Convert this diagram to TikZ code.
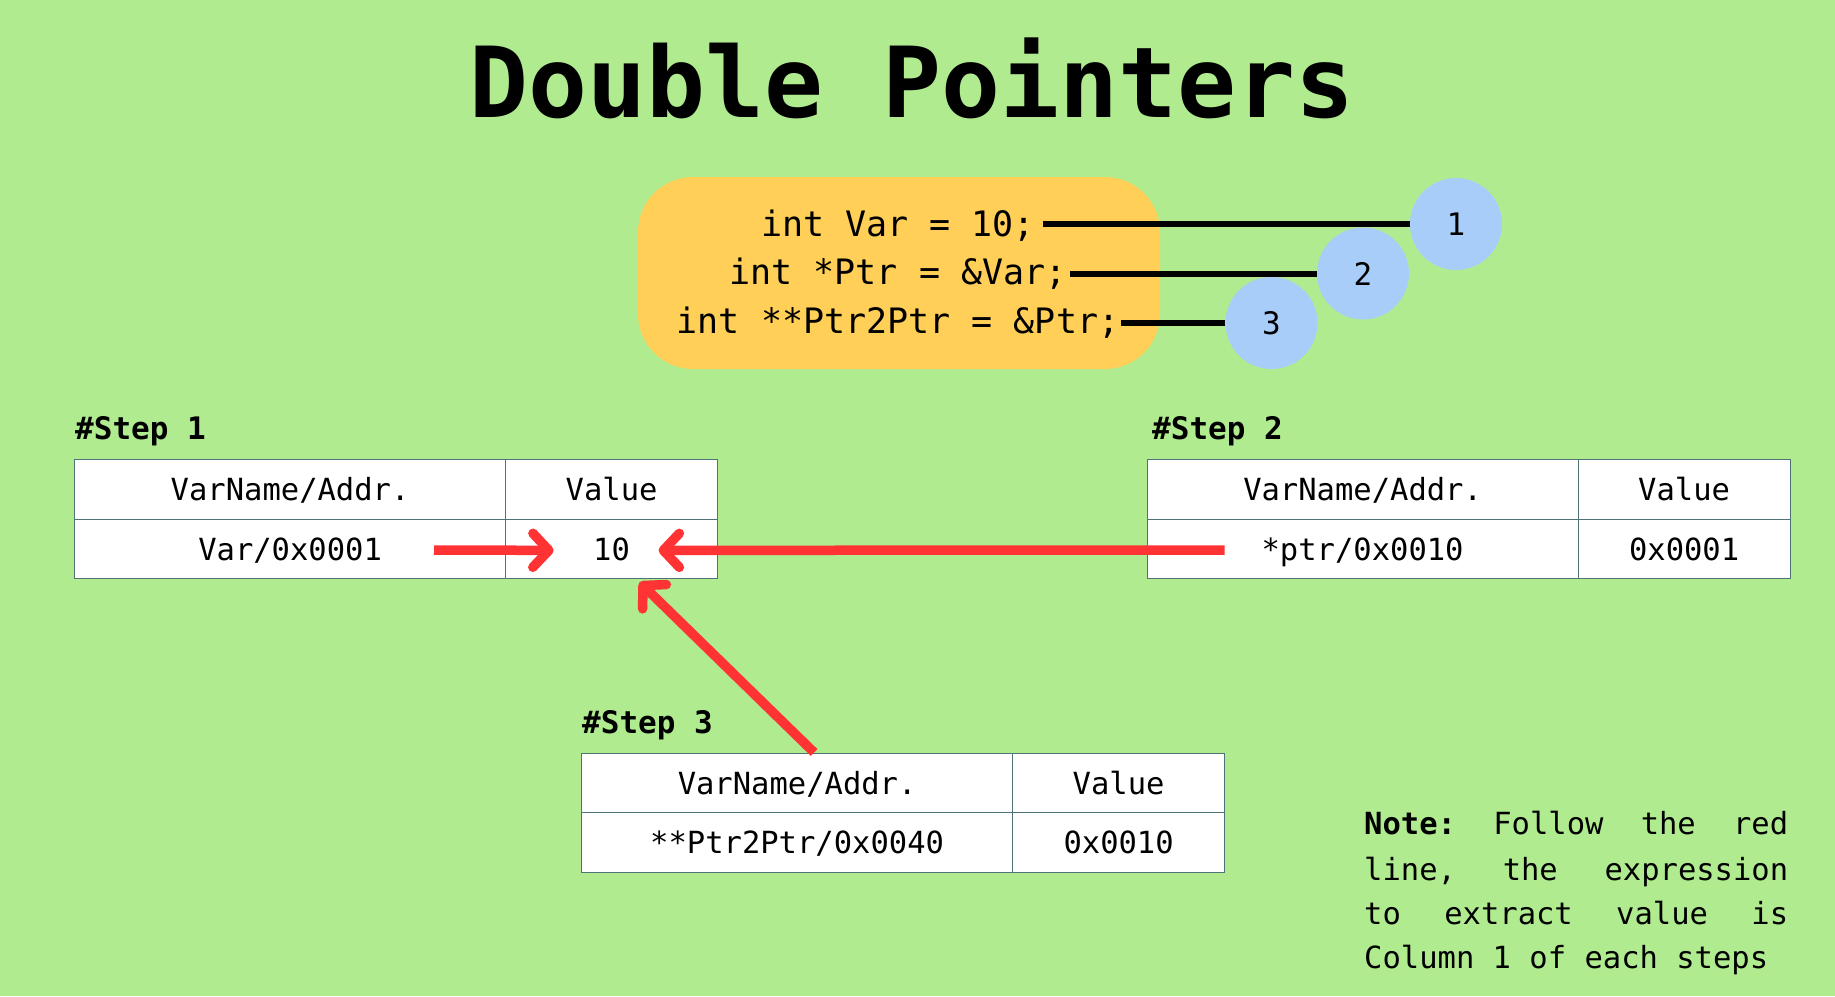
\documentclass[tikz,border=0pt]{standalone}
\usepackage{fontspec}
\setmonofont{DejaVu Sans Mono}
\usetikzlibrary{arrows.meta,calc}
\definecolor{bg}{RGB}{176,235,144}
\definecolor{codebox}{RGB}{255,207,88}
\definecolor{bubble}{RGB}{168,205,248}
\definecolor{redline}{RGB}{255,51,51}
\definecolor{gridc}{RGB}{80,115,120}
\newcommand{\tabfont}{\ttfamily\fontsize{30.5}{36}\selectfont}
\newcommand{\codefont}{\ttfamily\fontsize{35}{42}\selectfont}
\newcommand{\notefont}{\ttfamily\fontsize{30.5}{36}\selectfont}
\begin{document}
\begin{tikzpicture}[x=1pt,y=-1pt,
  cell/.style={draw=gridc, line width=1.2pt, fill=white, anchor=north west,
    inner sep=0pt, font=\tabfont, minimum height=59.5pt, text height=23pt, text depth=0pt},
  wide/.style={cell, minimum width=431pt},
  narrow/.style={cell, minimum width=212pt},
  steplabel/.style={anchor=base west, inner sep=0pt, font=\ttfamily\bfseries\fontsize{31}{36}\selectfont},
  codeline/.style={font=\codefont, inner sep=0pt, anchor=base},
  bubblenode/.style={circle, fill=bubble, minimum size=92pt, inner sep=0pt,
    font=\ttfamily\fontsize{31}{36}\selectfont},
  blackline/.style={draw=black, line width=6pt},
  redarr/.style={draw=redline, line width=9.5pt,
    -{Straight Barb[length=16pt, width=34pt, round]}},
  noteline/.style={anchor=base west, inner sep=0pt, font=\notefont}
]
\fill[bg] (0,0) rectangle (1835,996);
\useasboundingbox (0,0) rectangle (1835,996);

% title
\node[anchor=base, inner sep=0pt, font=\ttfamily\bfseries\fontsize{98}{110}\selectfont]
  (title) at (912,117) {Double Pointers};

% code box
\node[fill=codebox, rounded corners=55pt, minimum width=522pt, minimum height=192pt,
  inner sep=0pt] (code) at (899,273) {};
\node[codeline] (c1) at (898,236) {int Var = 10;};
\node[codeline] (c2) at (898,284.5) {int *Ptr = \&Var;};
\node[codeline] (c3) at (898,333) {int **Ptr2Ptr = \&Ptr;};

\node[bubblenode] (n1) at (1456,224) {1};
\node[bubblenode] (n2) at (1363,273.5) {2};
\node[bubblenode] (n3) at (1271.5,323) {3};

\draw[blackline] ($(c1.base east)+(8,-12)$) -- (n1.west);
\draw[blackline] ($(c2.base east)+(3,-11)$) -- (n2.west);
\draw[blackline] ($(c3.base east)+(2,-10)$) -- (n3.west);

% step 1
\node[steplabel] (s1) at (75,439) {\#Step 1};
\node[wide] (t1a) at (74,459) {VarName/Addr.};
\node[narrow] (t1b) at (505,459) {Value};
\node[wide] (t1c) at (74,518.5) {Var/0x0001};
\node[narrow] (t1d) at (505,518.5) {10};

% step 2
\node[steplabel] (s2) at (1152,439) {\#Step 2};
\node[wide] (t2a) at (1146.5,459) {VarName/Addr.};
\node[narrow] (t2b) at (1577.5,459) {Value};
\node[wide] (t2c) at (1146.5,518.5) {*ptr/0x0010};
\node[narrow] (t2d) at (1577.5,518.5) {0x0001};

% step 3
\node[steplabel] (s3) at (582,733) {\#Step 3};
\node[wide] (t3a) at (581,752.5) {VarName/Addr.};
\node[narrow] (t3b) at (1012,752.5) {Value};
\node[wide] (t3c) at (581,812) {**Ptr2Ptr/0x0040};
\node[narrow] (t3d) at (1012,812) {0x0010};

% red arrows
\coordinate (a1s) at (434,550);
\coordinate (a2s) at (1224.5,550);
\draw[redarr] (a1s) -- ($(t1d.center)+(-58,1.5)$);
\draw[redarr] (a2s) -- ($(t1d.center)+(47,1.5)$);
\draw[redarr] ($(t3a.north)+(17,0)$) -- ($(t1d.south)+(28,3)$);

% note
\node[noteline] (l1) at (1364,834) {\hbox to 424pt{\textbf{Note:}\hfill Follow\hfill the\hfill red}};
\node[noteline] (l2) at (1364,880) {\hbox to 424pt{line,\hfill the\hfill expression}};
\node[noteline] (l3) at (1364,924) {\hbox to 424pt{to\hfill extract\hfill value\hfill is}};
\node[noteline] (l4) at (1364,968) {Column 1 of each steps};
\end{tikzpicture}
\end{document}
